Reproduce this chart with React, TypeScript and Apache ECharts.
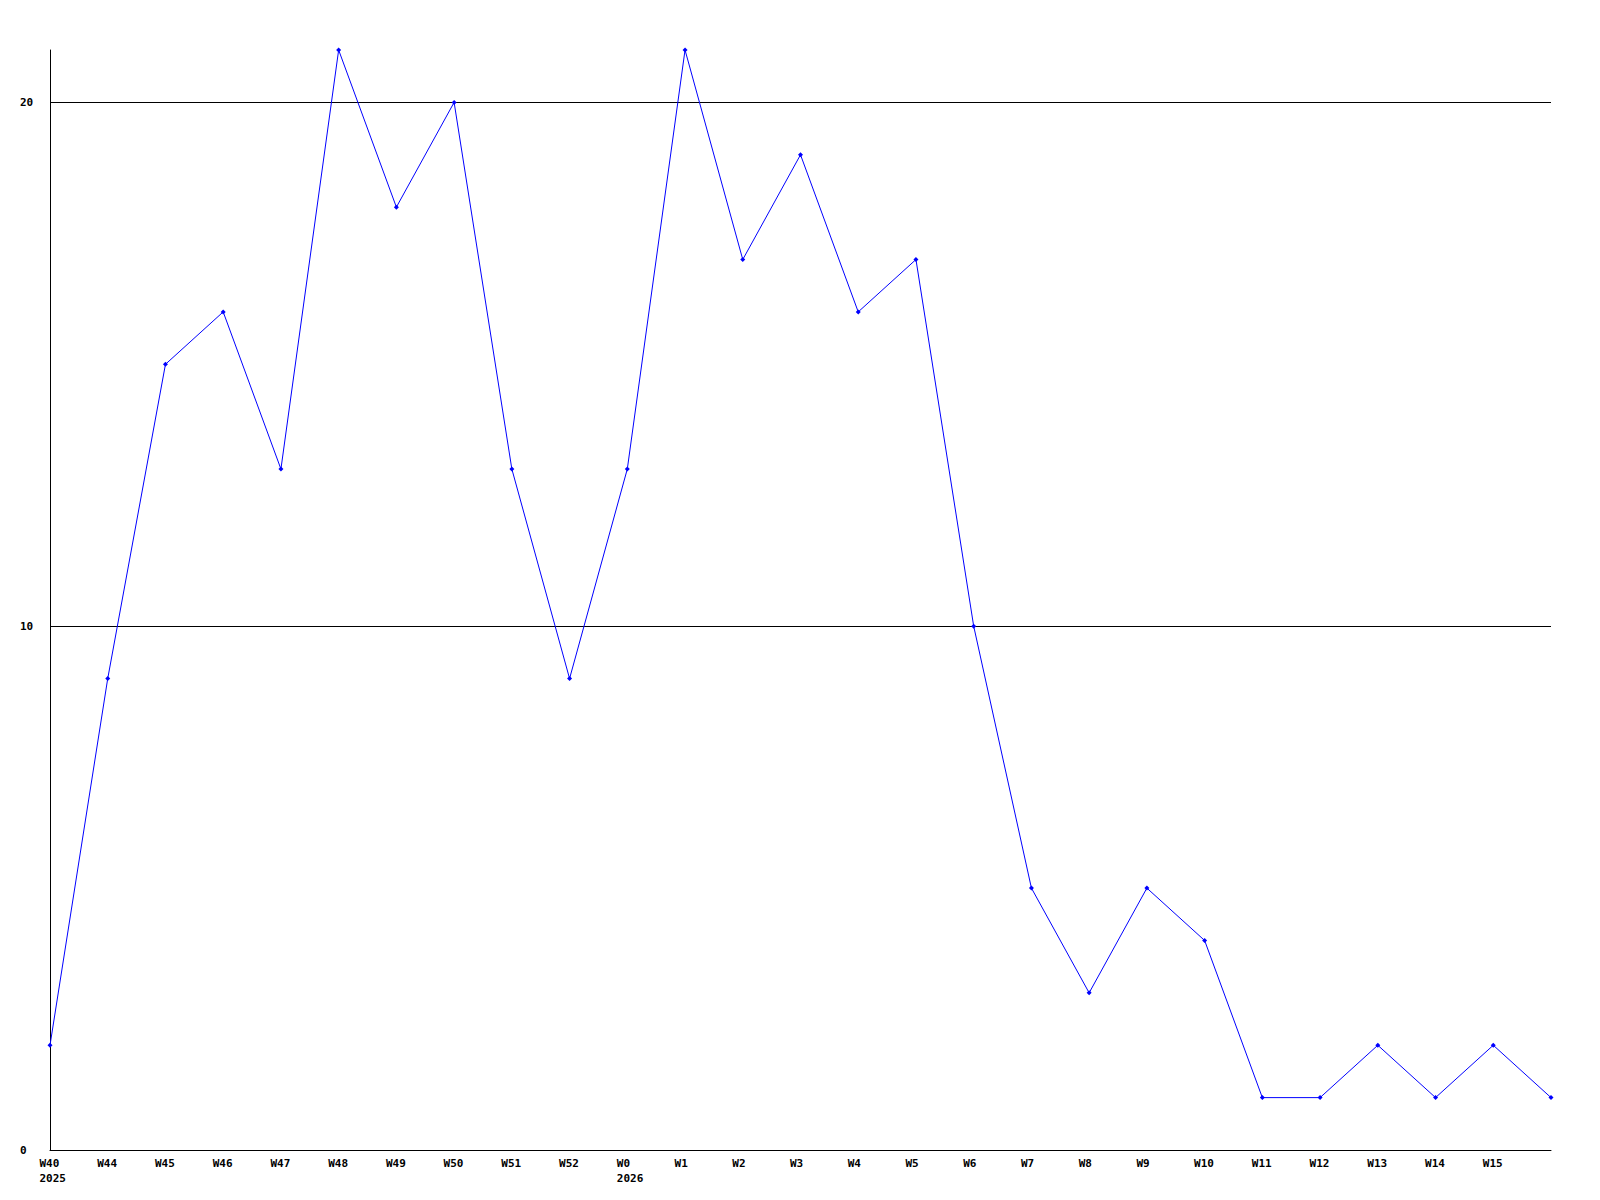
import React, { useEffect, useRef } from "react";
import * as echarts from "echarts";

const weeks = ["W40","W44","W45","W46","W47","W48","W49","W50","W51","W52","W0","W1","W2","W3","W4","W5","W6","W7","W8","W9","W10","W11","W12","W13","W14","W15",""];
const years = ["2025","","","","","","","","","","2026","","","","","","","","","","","","","","","",""];
const values = [2,9,15,16,13,21,18,20,13,9,13,21,17,19,16,17,10,5,3,5,4,1,1,2,1,2,1];
const yTicks = { min: 0, max: 21, interval: 10 };

export default function App() {
  const ref = useRef<HTMLDivElement>(null);
  useEffect(() => {
    document.body.style.margin = "0";
    const chart = echarts.init(ref.current!, null, { renderer: "svg" });
    const font = "DejaVu Sans Mono";
    chart.setOption({
      animation: false,
      backgroundColor: "#ffffff",
      grid: { left: 50, right: 49, top: 50, bottom: 50, containLabel: false },
      xAxis: {
        type: "category",
        data: weeks,
        boundaryGap: false,
        axisLine: { show: true, lineStyle: { color: "#000", width: 1 } },
        axisTick: { show: false },
        splitLine: { show: false },
        axisLabel: {
          interval: 0,
          margin: 6,
          align: "center",
          formatter: (v: string, i: number) =>
            years[i] ? `{a|${v}}\n{a|${years[i]}}` : `{a|${v}}`,
          rich: {
            a: {
              width: 21,
              align: "left",
              fontFamily: font,
              fontWeight: "bold",
              fontSize: 11,
              color: "#000",
              lineHeight: 15,
            },
          },
        },
      },
      yAxis: {
        type: "value",
        min: yTicks.min,
        max: yTicks.max,
        interval: yTicks.interval,
        axisLine: { show: true, lineStyle: { color: "#000", width: 1 } },
        axisTick: { show: false },
        splitLine: { show: true, showMaxLine: false, showMinLine: false, lineStyle: { color: "#000", width: 1 } },
        axisLabel: {
          showMaxLabel: false,
          margin: 30,
          align: "left",
          fontFamily: font,
          fontWeight: "bold",
          fontSize: 11,
          color: "#000",
        },
      },
      series: [
        {
          type: "line",
          data: values,
          symbol: "diamond",
          symbolSize: 5,
          showSymbol: true,
          lineStyle: { color: "#0000ff", width: 1 },
          itemStyle: { color: "#0000ff" },
        },
      ],
    });
    return () => chart.dispose();
  }, []);
  return <div ref={ref} style={{ width: 1600, height: 1200 }} />;
}
